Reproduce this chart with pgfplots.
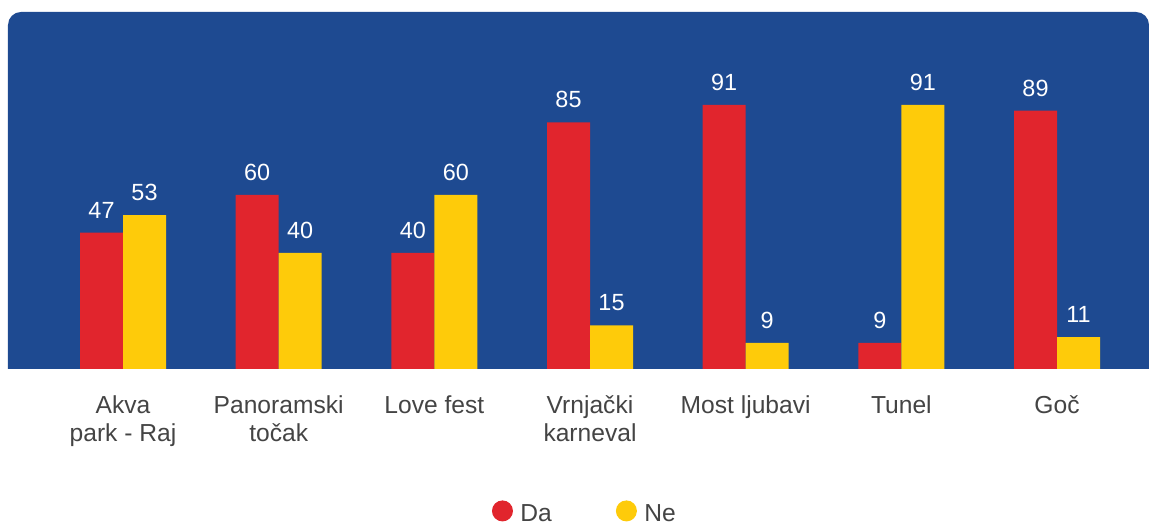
\documentclass[border=0pt]{standalone}
\usepackage{pgfplots}
\pgfplotsset{compat=1.18}
\usepackage{fontspec}
\setmainfont{Liberation Sans}
\definecolor{bgblue}{RGB}{30,74,145}
\definecolor{barred}{RGB}{225,37,45}
\definecolor{baryel}{RGB}{254,203,10}
\definecolor{txtgray}{RGB}{68,68,68}
\begin{document}
\begin{tikzpicture}
\begin{axis}[
  set layers,
  scale only axis, width=570.5pt, height=178.5pt,
  xmin=-0.7388, xmax=6.591, ymin=0, ymax=123,
  ybar=0pt, bar width=21.5pt,
  axis line style={draw=none}, major tick length=0pt,
  ytick=\empty,
  xtick={0,1,2,3,4,5,6},
  xticklabels={{Akva\\park - Raj},{Panoramski\\točak},{Love fest},{Vrnjački\\karneval},{Most ljubavi},{Tunel},{Goč}},
  xticklabel style={align=center, font=\fontsize{12.3}{14}\selectfont, text=txtgray, inner sep=0pt, yshift=-13pt},
  /pgf/number format/assume math mode=true,
  nodes near coords,
  every node near coord/.append style={font=\fontsize{11.7}{14}\selectfont, text=white, anchor=south, inner sep=0pt, yshift=7pt},
  legend columns=2,
  legend style={draw=none, fill=none, overlay, at={(axis description cs:0.5065,-0.408)}, anchor=center,
    font=\fontsize{12.3}{14}\selectfont, text=txtgray,
    /tikz/every even column/.append style={column sep=30pt}},
  legend image code/.code={\fill[#1] (0pt,2pt) circle (5.25pt); \path (7pt,2pt);},
  clip=false,
]
\begin{pgfonlayer}{axis background}
\fill[bgblue] (rel axis cs:0,0) [rounded corners=6.5pt] -- (rel axis cs:0,1) -- (rel axis cs:1,1) [sharp corners] -- (rel axis cs:1,0) -- cycle;
\end{pgfonlayer}
\addplot[fill=barred, draw=none] coordinates {(0,47) (1,60) (2,40) (3,85) (4,91) (5,9) (6,89)};
\addplot[fill=baryel, draw=none] coordinates {(0,53) (1,40) (2,60) (3,15) (4,9) (5,91) (6,11)};
\legend{Da,Ne}
\coordinate (bl) at (rel axis cs:0,0);
\coordinate (tr) at (rel axis cs:1,1);
\end{axis}
\path[use as bounding box] ([xshift=-4pt,yshift=-77.5pt]bl) rectangle ([yshift=6pt]tr);
\end{tikzpicture}
\end{document}
